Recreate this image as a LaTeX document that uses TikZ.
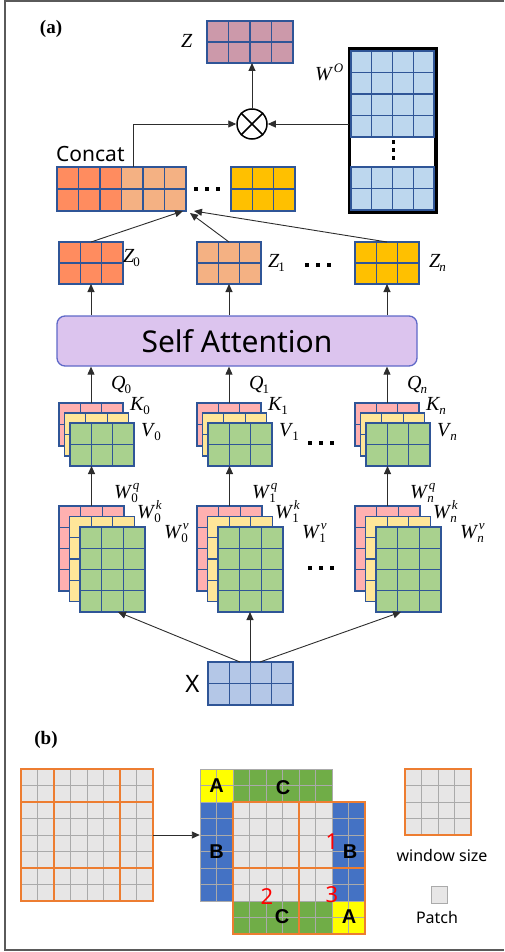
\documentclass[tikz,border=0pt]{standalone}
\usepackage{fontspec}
\setmainfont{Liberation Serif}
\newfontfamily\ssf{Noto Sans}
\newfontfamily\bsf{Liberation Sans}
\usetikzlibrary{arrows.meta,calc}
\definecolor{mblue}{RGB}{47,85,151}
\definecolor{zmauve}{RGB}{204,153,170}
\definecolor{cred}{RGB}{255,140,95}
\definecolor{corange}{RGB}{244,177,131}
\definecolor{cyel}{RGB}{255,192,0}
\definecolor{wblue}{RGB}{189,215,238}
\definecolor{xblue}{RGB}{180,199,231}
\definecolor{qpink}{RGB}{255,176,176}
\definecolor{kyel}{RGB}{255,230,153}
\definecolor{vgreen}{RGB}{169,209,142}
\definecolor{safill}{RGB}{220,196,238}
\definecolor{saedge}{RGB}{95,105,200}
\definecolor{pgray}{RGB}{231,230,230}
\definecolor{pline}{RGB}{170,170,170}
\definecolor{worange}{RGB}{237,125,49}
\definecolor{bA}{RGB}{255,255,0}
\definecolor{bB}{RGB}{68,114,196}
\definecolor{bC}{RGB}{112,173,71}
\definecolor{framec}{RGB}{90,90,90}
\definecolor{arrc}{RGB}{45,45,45}
\newcommand\gm[8]{%
  \node[matn, fill=#8, minimum width={#4*#6*1pt}, minimum height={#5*#7*1pt}] (#1) at ({#2+#4*#6/2},{#3+#5*#7/2}) {};
  \pgfmathtruncatemacro\gmc{#4-1}%
  \pgfmathtruncatemacro\gmr{#5-1}%
  \foreach \k in {1,...,\gmc}{\draw[matl] ($(#1.north west)+(\k*#6,0)$) -- ($(#1.south west)+(\k*#6,0)$);}%
  \foreach \k in {1,...,\gmr}{\draw[matl] ($(#1.north west)+(0,\k*#7)$) -- ($(#1.north east)+(0,\k*#7)$);}%
}
\newcommand\pgrid[4]{%
  \foreach \k in {0,...,#3}{\draw[pl] ({#1+\k*16.5},#2) -- ({#1+\k*16.5},{#2+#4*16.5});}%
  \foreach \k in {0,...,#4}{\draw[pl] (#1,{#2+\k*16.5}) -- ({#1+#3*16.5},{#2+\k*16.5});}%
}
\newcommand\mydots[2]{\foreach \d in {-11,0,11}{\fill ({#1+\d-2.2},{#2-2}) rectangle ({#1+\d+2.2},{#2+2});}}
% italic letter with subscript #2 and superscript #3
\newcommand\ilab[3]{\textit{#1}\makebox[0pt][l]{\kern0.5pt\raisebox{8.5pt}{\fontsize{13}{13}\selectfont\textit{#3}}}\kern-1pt\raisebox{-4.5pt}{\fontsize{13}{13}\selectfont #2}}
\newcommand\slab[2]{\textit{#1}\kern-1pt\raisebox{-4.5pt}{\fontsize{13}{13}\selectfont #2}}
\tikzset{
  matn/.style={draw=mblue, line width=1.3pt, inner sep=0pt, outer sep=0pt},
  matl/.style={draw=mblue, line width=1.3pt},
  arr/.style={draw=arrc, line width=0.9pt, -{Triangle[length=8pt,width=7pt]}},
  lab/.style={inner sep=0pt, anchor=base west, font=\fontsize{20}{21}\selectfont},
  sflab/.style={inner sep=0pt, font=\ssf\fontsize{#1}{#1}\selectfont},
  sflab/.default=16,
  pl/.style={draw=pline, line width=1pt},
  win/.style={draw=worange, line width=1.6pt},
  lett/.style={inner sep=0pt, font=\bsf\bfseries\fontsize{20}{20}\selectfont},
  num/.style={inner sep=0pt, text=red, font=\ssf\fontsize{22}{22}\selectfont},
}
\begin{document}
\begin{tikzpicture}[x=1pt,y=-1pt]
\useasboundingbox (0,0) rectangle (504,952);
\draw[framec, line width=1.6pt] (504,1) -- (5,1) -- (5,950) -- (504,950);

% ---------- (a) ----------
\node[inner sep=0pt, font=\bfseries\fontsize{19}{19}\selectfont] (pa) at (51,29) {(a)};

% Z output
\gm{ztop}{207}{21}{4}{2}{21.5}{21}{zmauve}
\node[lab] (lz) at (181,48) {\textit{Z}};

% otimes
\node[circle, draw, line width=1.5pt, minimum size=30pt, inner sep=0pt, fill=white] (ot) at (252,124) {};
\draw[line width=1.5pt] (ot.north west) -- (ot.south east) (ot.north east) -- (ot.south west);
\draw[arr] (ot.north) -- (ot.north |- ztop.south);

% W^O
\node[draw=black, line width=2.5pt, fill=white, minimum width=85pt, minimum height=161pt, inner sep=0pt] (WO) at (392.5,130.5) {};
\gm{wot}{351}{51}{4}{4}{20.75}{21.5}{wblue}
\gm{wob}{351}{167}{4}{2}{20.75}{21.5}{wblue}
\draw[line width=2.5pt] (WO.north west) rectangle (WO.south east);
\foreach \yy in {142,150,158}{\fill (391.5,\yy-1.8) rectangle (395,\yy+1.8);}
\node[lab] (lwo) at (315,81) {\textit{W}\kern0.5pt\raisebox{8.5pt}{\fontsize{13}{13}\selectfont\textit{O}}};
\draw[arr] (WO.west |- ot) -- (ot.east);

% Concat
\gm{concatA}{57}{167}{3}{2}{21.5}{22}{cred}
\gm{concatB}{121.5}{167}{3}{2}{21.5}{22}{corange}
\gm{concatC}{231}{167}{3}{2}{21.33}{22}{cyel}
\node[sflab=21, anchor=base west] (lconcat) at (56,162) {Concat};
\mydots{207}{189}
\coordinate (ctop) at ($(concatB.north west)+(11.5,0)$);
\draw[arr] (ctop) |- (ot.west);
\coordinate (cc0) at ($(concatB.south east)+(-3,0)$);
\coordinate (cc1) at ($(concatB.south east)+(4,2)$);
\coordinate (ccn) at ($(concatB.south east)+(8,0)$);

% Self attention
\node[draw=saedge, fill=safill, line width=1.3pt, rounded corners=8pt, minimum width=360pt, minimum height=50pt, inner sep=0pt, font=\ssf\fontsize{30}{30}\selectfont] (sa) at (237,341) {Self Attention};

% stacks
\foreach \s/\nn/\sb/\zc/\zl/\zb in {59/0/0/cred/64/262, 197/1/1/corange/71/267, 355/n/\itshape n/cyel/74/267}{
  % Z_i
  \gm{z\nn}{\s}{242}{3}{2}{21.33}{21}{\zc}
  \node[lab] (lz\nn) at (\s+\zl,\zb) {\slab{Z}{\sb}};
  % Q K V
  \gm{qp\nn}{\s}{403}{3}{2}{21.33}{21.5}{qpink}
  \gm{qy\nn}{\s+5.5}{413}{3}{2}{21.33}{21.5}{kyel}
  \gm{qg\nn}{\s+11}{423}{3}{2}{21.33}{21.5}{vgreen}
  \node[lab] (lq\nn) at (\s+52,389) {\slab{Q}{\sb}};
  \node[lab] (lk\nn) at (\s+71,410) {\slab{K}{\sb}};
  \node[lab] (lv\nn) at (\s+82,436) {\slab{V}{\sb}};
  % W
  \gm{wp\nn}{\s}{506}{3}{4}{21.67}{21.25}{qpink}
  \gm{wy\nn}{\s+10.5}{516.5}{3}{4}{21.67}{21.25}{kyel}
  \gm{wg\nn}{\s+21}{527}{3}{4}{21.67}{21.25}{vgreen}
  \node[lab] (lwq\nn) at (\s+55,498) {\ilab{W}{\sb}{q}};
  \node[lab] (lwk\nn) at (\s+78,518) {\ilab{W}{\sb}{k}};
  \node[lab] (lwv\nn) at (\s+105,538) {\ilab{W}{\sb}{v}};
  % arrows
  \draw[arr] (wp\nn.north) -- (qg\nn.south -| wp\nn.north);
  \draw[arr] (qp\nn.north) -- (qp\nn.north |- sa.south);
  \draw[arr] (sa.north -| z\nn.south) -- (z\nn.south);
  \draw[arr] (z\nn.north) -- (cc\nn);
}
\mydots{318}{265}
\mydots{321}{443}
\mydots{321}{568}

% X
\gm{X}{208}{662}{4}{2}{21.25}{21.5}{xblue}
\node[sflab=24] (lx) at (192.5,684) {X};
\coordinate (x0) at ($(X.north west)+(32,0)$);
\coordinate (x1) at ($(X.north west)+(42,0)$);
\coordinate (xn) at ($(X.north west)+(52,0)$);
\coordinate (t0) at ($(wg0.south west)+(38,0)$);
\coordinate (tn) at ($(wgn.south west)+(25,0)$);
\draw[arr] (x0) -- (t0);
\draw[arr] (x1) -- (x1 |- wg1.south);
\draw[arr] (xn) -- (tn);

% ---------- (b) ----------
\node[inner sep=0pt, font=\bfseries\fontsize{19}{19}\selectfont] (pb) at (46,740) {(b)};

% left grid
\node[fill=pgray, minimum size=132pt, inner sep=0pt] (lg) at (87,835) {};
\pgrid{21}{769}{8}{8}
\draw[win] (21,769) rectangle (153,901);
\draw[win] (54,769) -- (54,901) (120,769) -- (120,901) (21,802) -- (153,802) (21,868) -- (153,868);

% shifted grid
\fill[bA] (200,769) rectangle (233,802);
\fill[bC] (233,769) rectangle (332,802);
\node[fill=bB, minimum width=33pt, minimum height=99pt, inner sep=0pt] (bst) at (216.5,851.5) {};
\fill[pgray] (233,802) rectangle (365,934);
\fill[bB] (332,802) rectangle (365,901);
\fill[bA] (332,901) rectangle (365,934);
\fill[bC] (233,901) rectangle (332,934);
\pgrid{200}{769}{8}{2}
\pgrid{200}{802}{2}{6}
\pgrid{233}{802}{8}{8}
\draw[win] (233,802) rectangle (365,934);
\draw[win] (299,802) -- (299,934) (233,868) -- (365,868);
\draw[arr] (lg.east) -- (lg.east -| bst.west);

\node[lett] (a1) at (216.5,786) {A};
\node[lett] (c1) at (283,788) {C};
\node[lett] (b1) at (216.5,852) {B};
\node[lett] (b2) at (350,852) {B};
\node[lett] (c2) at (282,917) {C};
\node[lett] (a2) at (349,917) {A};
\node[num] (n1) at (332,842) {1};
\node[num] (n2) at (267,897) {2};
\node[num] (n3) at (332,895) {3};

% legend
\node[fill=pgray, minimum size=66pt, inner sep=0pt] (ws) at (438,802) {};
\pgrid{405}{769}{4}{4}
\draw[win] (405,769) rectangle (471,835);
\node[sflab=16] (lws) at (442,855) {window size};
\node[fill=pgray, draw=pline, line width=1pt, minimum size=16.5pt, inner sep=0pt] (patch) at (439.5,895) {};
\node[sflab=16] (lpatch) at (437,917) {Patch};
\end{tikzpicture}
\end{document}
